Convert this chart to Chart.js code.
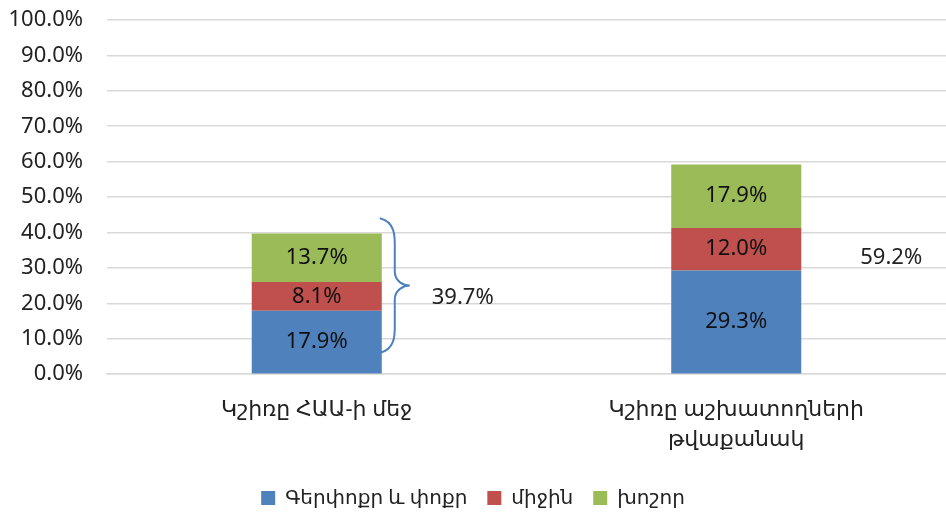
<!DOCTYPE html>
<html>
<head>
<meta charset="utf-8">
<script src="https://cdn.jsdelivr.net/npm/chart.js@4"></script>
<style>
  html, body { margin: 0; padding: 0; background: #fff; }
  #wrap { width: 946px; height: 513px; }
</style>
</head>
<body>
<div id="wrap"><canvas id="chart"></canvas></div>
<script>
const categories = [["Կշիռը ՀԱԱ-ի մեջ"], ["Կշիռը աշխատողների", "թվաքանակ"]];
const seriesNames = ["Գերփոքր և փոքր", "միջին", "խոշոր"];
const smallValues = [17.9, 29.3];
const mediumValues = [8.1, 12.0];
const largeValues = [13.7, 17.9];
const totals = [39.7, 59.2];
const colors = ["#4F81BD", "#C0504D", "#9BBB59"];

const FONT = "'Noto Sans', 'DejaVu Sans', sans-serif";

// labels inside the bar segments
const segmentLabels = {
    id: "segmentLabels",
    afterDatasetsDraw(chart) {
        const ctx = chart.ctx;
        ctx.save();
        ctx.font = "22px " + FONT;
        ctx.fillStyle = "#111";
        ctx.textAlign = "center";
        ctx.textBaseline = "middle";
        chart.data.datasets.forEach((ds, i) => {
            chart.getDatasetMeta(i).data.forEach((bar, j) => {
                const mid = (bar.y + bar.base) / 2;
                ctx.fillText(ds.data[j].toFixed(1) + "%", bar.x, mid);
            });
        });
        ctx.restore();
    }
};

// brace next to first bar and the totals
const totalsPlugin = {
    id: "totalsPlugin",
    afterDatasetsDraw(chart) {
        const ctx = chart.ctx;
        const y = chart.scales.y;
        const bar0 = chart.getDatasetMeta(0).data[0];
        const bar1 = chart.getDatasetMeta(0).data[1];
        ctx.save();

        // curly brace
        const left = bar0.x + bar0.width / 2 - 2;
        const top = y.getPixelForValue(totals[0] + 4.3);
        const bottom = y.getPixelForValue(6);
        const mid = (top + bottom) / 2;
        const w = 30;
        ctx.strokeStyle = "#4F81BD";
        ctx.lineWidth = 2;
        ctx.beginPath();
        ctx.moveTo(left, top);
        ctx.bezierCurveTo(left + w * 0.55, top + 4, left + w * 0.5, top + 20, left + w * 0.5, top + 30);
        ctx.lineTo(left + w * 0.5, mid - 14);
        ctx.bezierCurveTo(left + w * 0.5, mid - 4, left + w * 0.8, mid, left + w, mid);
        ctx.bezierCurveTo(left + w * 0.8, mid, left + w * 0.5, mid + 4, left + w * 0.5, mid + 14);
        ctx.lineTo(left + w * 0.5, bottom - 30);
        ctx.bezierCurveTo(left + w * 0.5, bottom - 20, left + w * 0.55, bottom - 4, left, bottom);
        ctx.stroke();

        ctx.font = "22px " + FONT;
        ctx.fillStyle = "#222";
        ctx.textAlign = "left";
        ctx.textBaseline = "middle";
        ctx.fillText(totals[0].toFixed(1) + "%", left + 52, y.getPixelForValue(21.6));
        ctx.fillText(totals[1].toFixed(1) + "%", bar1.x + bar1.width / 2 + 59, y.getPixelForValue(32.8));
        ctx.restore();
    }
};

function makeDataset(label, data, color) {
    return {
        label,
        data,
        backgroundColor: color,
        borderWidth: 0,
        barPercentage: 0.62,
        categoryPercentage: 0.5
    };
}

new Chart(document.getElementById("chart"), {
    type: "bar",
    data: {
        labels: categories,
        datasets: [
            makeDataset(seriesNames[0], smallValues, colors[0]),
            makeDataset(seriesNames[1], mediumValues, colors[1]),
            makeDataset(seriesNames[2], largeValues, colors[2])
        ]
    },
    options: {
        responsive: true,
        maintainAspectRatio: false,
        animation: false,
        layout: { padding: { top: 0, right: 0, bottom: -5, left: 0 } },
        plugins: {
            legend: {
                position: "bottom",
                labels: {
                    font: { family: FONT, size: 20 },
                    color: "#222",
                    boxWidth: 14,
                    boxHeight: 14,
                    padding: 20
                }
            },
            tooltip: { enabled: false }
        },
        scales: {
            x: {
                stacked: true,
                grid: { display: false },
                border: { display: true, color: "#D9D9D9", width: 1.5 },
                ticks: {
                    font: { family: FONT, size: 22, lineHeight: 1.36 },
                    color: "#222",
                    padding: 13
                }
            },
            y: {
                stacked: true,
                min: 0,
                max: 100,
                afterFit: (scale) => {
                    scale.width = 107;
                    scale.paddingTop = 20;
                },
                grid: { color: "#D9D9D9", drawTicks: false, lineWidth: 1.5 },
                border: { display: false },
                ticks: {
                    stepSize: 10,
                    font: { family: FONT, size: 22 },
                    color: "#222",
                    padding: 24,
                    callback: (v) => v.toFixed(1) + "%"
                }
            }
        }
    },
    plugins: [segmentLabels, totalsPlugin]
});
</script>
</body>
</html>
